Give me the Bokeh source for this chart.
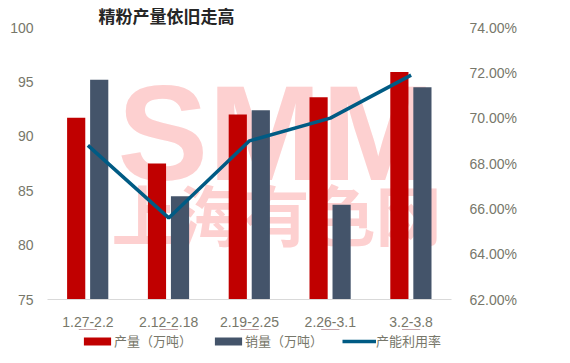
from bokeh.plotting import figure
from bokeh.layouts import column
from bokeh.models import (ColumnDataSource, Range1d, LinearAxis, FixedTicker,
                          NumeralTickFormatter, Legend, LegendItem, Label, Title)
from bokeh.transform import dodge
from bokeh.embed import file_html
from bokeh.resources import INLINE

categories = ["1.27-2.2", "2.12-2.18", "2.19-2.25", "2.26-3.1", "3.2-3.8"]
production = [91.7, 87.5, 92.0, 93.6, 95.9]      # 产量（万吨）
sales = [95.2, 84.5, 92.4, 83.7, 94.5]           # 销量（万吨）
utilization = [0.688, 0.656, 0.690, 0.700, 0.719]  # 产能利用率
left_ticks = [75, 80, 85, 90, 95, 100]
right_ticks = [0.62, 0.64, 0.66, 0.68, 0.70, 0.72, 0.74]
series_names = ["产量（万吨）", "销量（万吨）", "产能利用率"]

idx = list(range(len(categories)))
src = ColumnDataSource(dict(x=idx, prod=production, sales=sales, util=utilization))

TXT = "#77776a"
FONT = "Liberation Sans Narrow, Liberation Sans, sans-serif"
CJK = "Noto Sans CJK SC"
RED, GREY, BLUE = "#c00000", "#44546a", "#005b84"

p = figure(width=570, height=329, output_backend="svg", toolbar_location=None,
           x_range=Range1d(-0.5, 4.5), y_range=Range1d(75, 100),
           min_border_left=47, min_border_right=119, min_border_top=26,
           min_border_bottom=28, outline_line_color=None)
p.extra_y_ranges = {"pct": Range1d(0.62, 0.74)}
p.xgrid.visible = False
p.ygrid.visible = False

# watermark
wm1 = Label(x=70, y=91, x_units="screen", y_units="screen", text="SMM",
            text_font="Liberation Sans", text_font_style="bold", text_font_size="136px",
            text_color="#fdd0d0", level="underlay")
wm2 = Label(x=64, y=40, x_units="screen", y_units="screen", text="上海有色网",
            text_font=CJK, text_font_style="bold", text_font_size="66px",
            text_color="#fdd0d0", level="underlay")
p.add_layout(wm1)
p.add_layout(wm2)

p.vbar(x=dodge("x", -0.145, range=p.x_range), top="prod", bottom=75, width=0.225,
       source=src, fill_color=RED, line_color=None)
p.vbar(x=dodge("x", 0.14, range=p.x_range), top="sales", bottom=75, width=0.225,
       source=src, fill_color=GREY, line_color=None)
p.line(x="x", y="util", source=src, y_range_name="pct", line_color=BLUE,
       line_width=3.5)

# axes styling
xa = p.xaxis[0]
xa.ticker = FixedTicker(ticks=idx)
xa.major_label_overrides = {i: c for i, c in enumerate(categories)}
xa.axis_line_color = "#d9d9d9"
xa.major_tick_line_color = None
xa.minor_tick_line_color = None
xa.major_label_standoff = 11
xa.major_label_text_color = TXT
xa.major_label_text_font = FONT
xa.major_label_text_font_size = "14px"

ya = p.yaxis[0]
ya.ticker = FixedTicker(ticks=left_ticks)
ya.axis_line_color = None
ya.major_tick_line_color = None
ya.minor_tick_line_color = None
ya.major_label_standoff = 8
ya.major_label_text_color = TXT
ya.major_label_text_font = FONT
ya.major_label_text_font_size = "14px"

ra = LinearAxis(y_range_name="pct", ticker=FixedTicker(ticks=right_ticks),
                formatter=NumeralTickFormatter(format="0.00%"))
ra.axis_line_color = None
ra.major_tick_line_color = None
ra.minor_tick_line_color = None
ra.major_label_standoff = 12
ra.major_label_text_color = TXT
ra.major_label_text_font = FONT
ra.major_label_text_font_size = "14px"
p.add_layout(ra, "right")

title = Title(text="精粉产量依旧走高", align="left", offset=51, standoff=0,
              text_font=CJK, text_font_style="bold", text_font_size="17px",
              text_color="#262626")
p.add_layout(title, "above")

# legend strip (same series, drawn off-range so only the legend shows)
lg = figure(width=570, height=34, output_backend="svg", toolbar_location=None,
            x_range=Range1d(-0.5, 4.5), y_range=Range1d(-2, -1),
            min_border_left=47, min_border_right=119, min_border_top=0,
            min_border_bottom=0, x_axis_type=None, y_axis_type=None,
            outline_line_color=None)
lg.grid.visible = False
d1 = lg.vbar(x="x", top="prod", bottom=75, width=0.225, source=src,
             fill_color=RED, line_color=None)
d2 = lg.vbar(x="x", top="sales", bottom=75, width=0.225, source=src,
             fill_color=GREY, line_color=None)
d3 = lg.line(x="x", y="util", source=src, line_color=BLUE, line_width=3.5)
legend = Legend(items=[LegendItem(label=series_names[0], renderers=[d1]),
                       LegendItem(label=series_names[1], renderers=[d2]),
                       LegendItem(label=series_names[2], renderers=[d3])],
                location=(33, 13), orientation="horizontal",
                glyph_width=34, glyph_height=10, label_standoff=0, spacing=19,
                padding=0, margin=0, border_line_color=None, background_fill_alpha=0,
                label_text_font=CJK, label_text_font_size="13px",
                label_text_color=TXT, label_height=16)
lg.add_layout(legend, "center")

open("out.html", "w").write(file_html(column(p, lg, spacing=0), INLINE))
